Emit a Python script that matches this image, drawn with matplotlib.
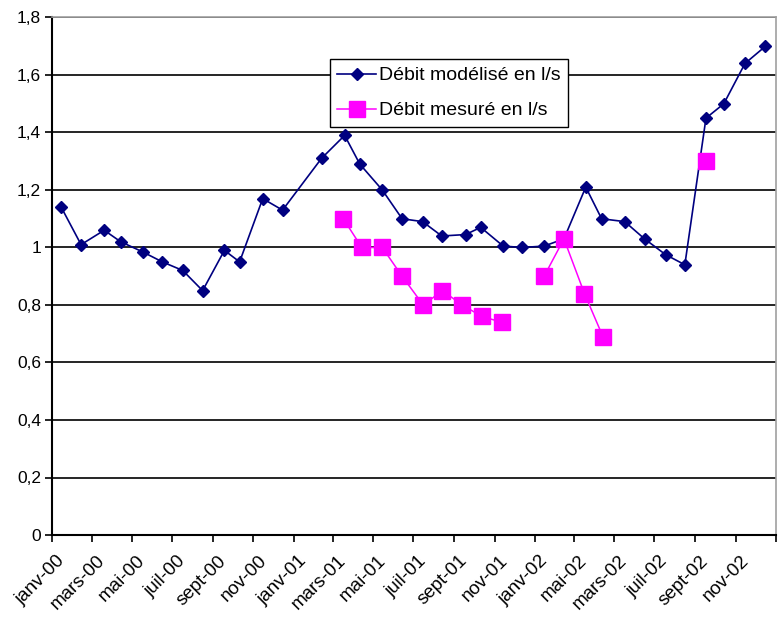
import datetime as dt
import numpy as np
import matplotlib
matplotlib.use("Agg")
import matplotlib.pyplot as plt

# ---- data ----
model_dates = ["2000-01-15", "2000-02-14", "2000-03-20", "2000-04-14", "2000-05-17",
               "2000-06-16", "2000-07-17", "2000-08-16", "2000-09-18", "2000-10-11",
               "2000-11-15", "2000-12-15", "2001-02-12", "2001-03-19", "2001-04-11",
               "2001-05-15", "2001-06-14", "2001-07-15", "2001-08-13", "2001-09-18",
               "2001-10-11", "2001-11-14", "2001-12-13", "2002-01-15", "2002-02-14",
               "2002-03-19", "2002-04-12", "2002-05-17", "2002-06-16", "2002-07-18",
               "2002-08-16", "2002-09-17", "2002-10-14", "2002-11-15", "2002-12-16"]
model_values = [1.14, 1.01, 1.06, 1.02, 0.985, 0.95, 0.92, 0.85, 0.99, 0.95,
                1.17, 1.13, 1.31, 1.39, 1.29, 1.20, 1.10, 1.09, 1.04, 1.045,
                1.07, 1.005, 1.00, 1.005, 1.03, 1.21, 1.10, 1.09, 1.03, 0.975,
                0.94, 1.45, 1.50, 1.64, 1.70]

measured_dates = ["2001-03-17", "2001-04-14", "2001-05-15", "2001-06-14", "2001-07-16",
                  "2001-08-14", "2001-09-13", "2001-10-13", "2001-11-12", "2001-12-13",
                  "2002-01-15", "2002-02-14", "2002-03-17", "2002-04-14", "2002-05-17",
                  "2002-06-16", "2002-07-18", "2002-08-16", "2002-09-17"]
measured_values = [1.10, 1.00, 1.00, 0.90, 0.80, 0.85, 0.80, 0.76, 0.74, None,
                   0.90, 1.03, 0.84, 0.69, None, None, None, None, 1.30]

tick_labels = ["janv-00", "mars-00", "mai-00", "juil-00", "sept-00", "nov-00",
               "janv-01", "mars-01", "mai-01", "juil-01", "sept-01", "nov-01",
               "janv-02", "mai-02", "mars-02", "juil-02", "sept-02", "nov-02"]

label_legend_model = "Débit modélisé en l/s"
label_legend_meas = "Débit mesuré en l/s"

# ---- figure ----
plt.rcParams['font.family'] = ['Liberation Sans', 'DejaVu Sans']
fig = plt.figure(figsize=(7.79, 6.24), dpi=100)
ax = fig.add_axes([52/779, 1-535/624, (776-52)/779, (535-17.5)/624])

def to_dt(s):
    return dt.datetime.strptime(s, "%Y-%m-%d")

md = [to_dt(s) for s in model_dates]
msd = [to_dt(s) for s in measured_dates]
mv = np.array([np.nan if v is None else v for v in measured_values], dtype=float)

ax.plot(md, model_values, color="#000080", lw=1.2, marker="D", ms=6,
        markeredgecolor="#000080", markerfacecolor="#000080", label=label_legend_model, zorder=3)
ax.plot(msd, mv, color="#FF00FF", lw=1.1, marker="s", ms=11,
        markeredgecolor="#FF00FF", markerfacecolor="#FF00FF", label=label_legend_meas, zorder=4)

start = dt.datetime(2000, 1, 1)
end = dt.datetime(2003, 1, 1)
ax.set_xlim(start, end)
ax.set_ylim(0, 1.8)

# x ticks: marks at the 1st of every other month, labels near mid-month
major = [dt.datetime(2000 + (m // 12), m % 12 + 1, 1) for m in range(0, 37, 2)]
minor = [dt.datetime(2000 + (m // 12), m % 12 + 1, 8) for m in range(0, 36, 2)]
ax.set_xticks(major)
ax.set_xticklabels([""] * len(major))
ax.set_xticks(minor, minor=True)
ax.set_xticklabels(tick_labels, minor=True, rotation=45, ha="right",
                   rotation_mode="anchor", fontsize=13.5)
ax.tick_params(axis="x", which="major", length=5, width=1.2, direction="out")
ax.tick_params(axis="x", which="minor", length=0, pad=12.5)

yt = np.arange(0, 1.81, 0.2)
ax.set_yticks(yt)
ax.set_yticklabels([("%g" % round(v, 1)).replace(".", ",") for v in yt], fontsize=12.5)
ax.tick_params(axis="y", length=5, width=1.2, direction="out", pad=3)

ax.grid(axis="y", color="black", lw=1.2)
ax.set_axisbelow(True)

for s in ["left", "bottom"]:
    ax.spines[s].set_color("black")
    ax.spines[s].set_linewidth(1.5)
for s in ["top", "right"]:
    ax.spines[s].set_color("#A0A0A0")
    ax.spines[s].set_linewidth(1.2)

leg = ax.legend(loc="upper left", bbox_to_anchor=((329.5-52)/724, (535-59)/517.5),
                frameon=True, fancybox=False, edgecolor="black", framealpha=1,
                fontsize=14, borderpad=0.4, labelspacing=0.9, handlelength=2.0,
                handletextpad=0.15, borderaxespad=0)
leg.get_frame().set_linewidth(1.0)

fig.savefig("out.png", dpi=100)
